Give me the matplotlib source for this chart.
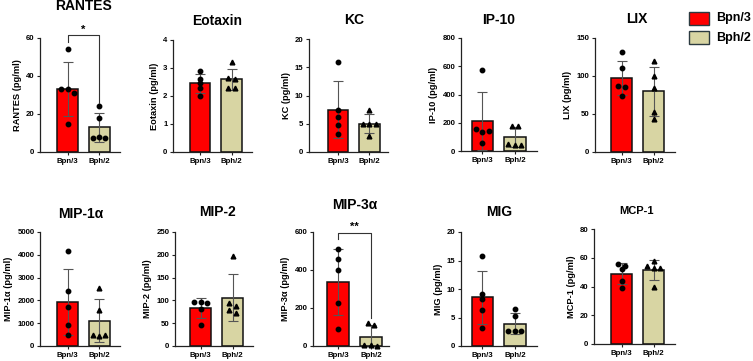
import numpy as np
import matplotlib.pyplot as plt
from matplotlib.patches import Rectangle

plt.rcParams['font.family'] = ['Liberation Sans', 'DejaVu Sans']
plt.rcParams['font.weight'] = 'bold'
plt.rcParams['axes.labelweight'] = 'bold'

groups = ['Bpn/3', 'Bph/2']
titles = ['RANTES', 'Eotaxin', 'KC', 'IP-10', 'LIX',
          'MIP-1α', 'MIP-2', 'MIP-3α', 'MIG', 'MCP-1']
ylabels = [t + ' (pg/ml)' for t in titles]
ymax = [60, 4, 20, 800, 150, 5000, 250, 600, 20, 80]
ystep = [20, 1, 5, 200, 50, 1000, 50, 200, 5, 20]

# individual animals
bpn3 = [
    [54, 33, 33, 31, 14.5],
    [2.9, 2.6, 2.45, 2.3, 2.0],
    [16, 7.5, 6.2, 4.7, 3.1],
    [575, 155, 135, 140, 55],
    [131, 110, 87, 85, 74],
    [4180, 2400, 1730, 930, 500],
    [96, 96, 95, 82, 46],
    [510, 460, 400, 225, 88],
    [15.8, 9.2, 8.3, 6.3, 3.1],
    [56, 54, 52, 44, 39],
]
bph2 = [
    [24, 18, 7.5, 8, 7.5],
    [3.2, 2.66, 2.6, 2.27, 2.27],
    [7.4, 5.0, 5.0, 4.9, 2.8],
    [178, 178, 50, 40, 45],
    [120, 100, 84, 52, 44],
    [2550, 1600, 500, 440, 480],
    [197, 95, 88, 78, 73],
    [120, 110, 5, 4, 2],
    [6.5, 5.2, 2.6, 2.6, 2.6],
    [58, 54, 53, 53, 40],
]
bph2_marker = ['o', '^', '^', '^', '^', '^', '^', '^', 'o', '^']

# significance brackets: panel index -> (label, y of bar, left leg end, right leg end, text y)
sig = {0: ('*', 61.5, 58, 26, 64.5),
       7: ('**', 595, 565, 150, 625)}

colors = ['#FF0000', '#D8D5A3']

W, H = 753, 361
# axes boxes in pixels: left, top, right, bottom, xlim
boxes = [
    (40, 38, 120, 152, (-0.87, 1.66)),
    (173, 40, 252, 152, (-0.86, 1.65)),
    (309, 39, 388, 152, (-0.92, 1.59)),
    (461, 38, 537, 151, (-0.66, 1.68)),
    (595, 38, 675, 152, (-0.83, 1.67)),
    (40, 232, 120, 346, (-0.87, 1.66)),
    (175, 232, 253, 346, (-0.80, 1.64)),
    (313, 232, 389, 346, (-0.76, 1.55)),
    (461, 232, 537, 346, (-0.66, 1.68)),
    (594, 229, 675, 344, (-0.86, 1.67)),
]
title_pos = [(83, 6, 10), (217, 21, 10), (354, 20, 10), (499, 20, 10), (637, 19, 10),
             (81, 214, 10), (217, 212, 10), (355, 205, 10), (499, 212, 10), (637, 211, 8)]

fig = plt.figure(figsize=(W / 100, H / 100), dpi=100)


def spread(vals, span):
    # put points with near-equal values side by side, like Prism
    vals = np.asarray(vals, dtype=float)
    off = np.zeros(len(vals))
    used = np.zeros(len(vals), bool)
    for i in range(len(vals)):
        if used[i]:
            continue
        idx = [j for j in range(len(vals)) if not used[j] and abs(vals[j] - vals[i]) < span]
        for j in idx:
            used[j] = True
        n = len(idx)
        for k, j in enumerate(idx):
            off[j] = (k - (n - 1) / 2) * 0.2
    return off


for i in range(10):
    l, t, r, b, xl = boxes[i]
    ax = fig.add_axes([l / W, 1 - b / H, (r - l) / W, (b - t) / H])
    data = [bpn3[i], bph2[i]]
    means = [np.mean(d) for d in data]
    sds = [np.std(d, ddof=1) for d in data]
    ax.bar([0, 1], means, width=0.66, color=colors, edgecolor='#111111',
           linewidth=1.1, zorder=2)
    ax.errorbar([0, 1], means, yerr=sds, fmt='none', ecolor='#555555',
                elinewidth=0.8, capsize=3.6, capthick=0.8, zorder=3)
    for g, d in enumerate(data):
        mk = 'o' if g == 0 else bph2_marker[i]
        ax.plot(g + spread(d, ymax[i] * 0.035), d, linestyle='none', marker=mk,
                markersize=3.2 if mk == 'o' else 3.4, color='black', zorder=4,
                clip_on=False)
    ax.set_xlim(*xl)
    ax.set_ylim(0, ymax[i])
    ax.set_yticks(np.arange(0, ymax[i] + ystep[i] / 2, ystep[i]))
    ax.set_xticks([0, 1])
    ax.set_xticklabels(groups)
    ax.set_ylabel(ylabels[i], fontsize=6.7, labelpad=3)
    for s in ['top', 'right']:
        ax.spines[s].set_visible(False)
    for s in ['left', 'bottom']:
        ax.spines[s].set_linewidth(0.9)
        ax.spines[s].set_color('#222222')
    ax.tick_params(axis='both', labelsize=5.6, length=2.5, width=0.8,
                   pad=1.5, color='#222222')
    for lab in ax.get_xticklabels() + ax.get_yticklabels():
        lab.set_fontweight('bold')
    if i in sig:
        txt, yb, yl, yr, yt = sig[i]
        ax.plot([0, 0, 1, 1], [yl, yb, yb, yr], color='#333333', lw=0.8,
                clip_on=False, zorder=5)
        ax.text(0.5, yt, txt, ha='center', va='center', fontsize=8,
                fontweight='bold', clip_on=False)
    tx, ty, fs = title_pos[i]
    fig.text(tx / W, 1 - ty / H, titles[i], ha='center', va='center',
             fontsize=fs, fontweight='bold')

# legend
for k, (lab, c) in enumerate(zip(groups, colors)):
    y0 = [12, 31][k]
    fig.patches.append(Rectangle((689 / W, 1 - (y0 + 13) / H), 20 / W, 13 / H,
                                 transform=fig.transFigure, facecolor=c,
                                 edgecolor='#2b3a40', linewidth=1.0))
    fig.text(716 / W, 1 - (y0 + 6.5) / H, lab, ha='left', va='center',
             fontsize=9, fontweight='bold')

fig.savefig('out.png', dpi=100)
